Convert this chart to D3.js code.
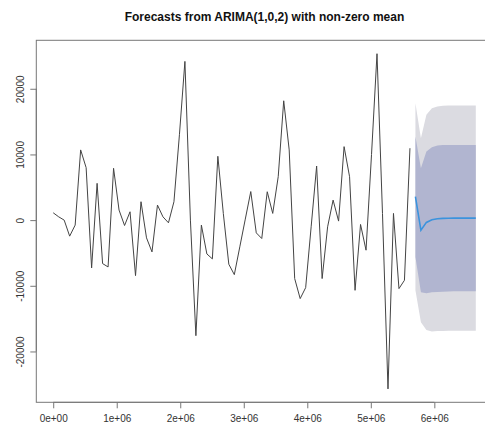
<!DOCTYPE html>
<html>
<head>
<meta charset="utf-8">
<script src="https://cdn.jsdelivr.net/npm/d3@7"></script>
<style>
  html, body { margin: 0; padding: 0; background: #fff; }
  svg { display: block; font-family: "Liberation Sans", Arial, sans-serif; }
</style>
</head>
<body>
<svg id="chart" width="485" height="426"></svg>
<script>
// Daily observations, time measured in seconds
const step = 86400;
const observed = [
  1115, 500, 0, -2440, -760, 10690, 7990, -7280, 5600, -6620,
  -7130, 7890, 1530, -820, 1270, -8450, 2800, -2700, -4840, 2290,
  500, -410, 2800, 13000, 24170, 0, -17600, -760, -5150, -5900,
  9720, 1000, -6720, -8300, -4070, 150, 4350, -1940, -2800, 4320,
  1020, 6620, 18170, 10690, -8900, -11950, -10280, -1020, 8240, -8900,
  -1020, 3050, -150, 11190, 6610, -10690, -660, -4580, 10000, 25340,
  1000, -25700, 1020, -10430, -9160, 10950
];

// Twelve-step forecast with 80% and 95% prediction intervals
const fcMean = [3560, -1550, -350, 50, 200, 260, 290, 300, 300, 300, 300, 300];
const hi80 = [12720, 7890, 10430, 11100, 11350, 11420, 11450, 11450, 11450, 11450, 11450, 11450];
const lo80 = [-5600, -10990, -11130, -11000, -10950, -10900, -10870, -10850, -10850, -10850, -10850, -10850];
const hi95 = [17800, 12470, 16030, 17050, 17300, 17400, 17450, 17450, 17450, 17450, 17450, 17450];
const lo95 = [-10680, -15570, -16730, -16950, -16900, -16880, -16860, -16850, -16850, -16850, -16850, -16850];

const xTicks = [0, 1e6, 2e6, 3e6, 4e6, 5e6, 6e6];
const yTicks = [-20000, -10000, 0, 10000, 20000];
const title = "Forecasts from ARIMA(1,0,2) with non-zero mean";

const obsPts = observed.map((v, i) => ({ t: i * step, v }));
const n0 = observed.length;
const fcPts = fcMean.map((v, i) => ({
  t: (n0 + i) * step, v, lo80: lo80[i], hi80: hi80[i], lo95: lo95[i], hi95: hi95[i]
}));

// Axis ranges padded by 4% on each side
function padded(lo, hi) { const d = (hi - lo) * 0.04; return [lo - d, hi + d]; }
const tMax = fcPts[fcPts.length - 1].t;
const vMin = d3.min([d3.min(observed), d3.min(lo95)]);
const vMax = d3.max([d3.max(observed), d3.max(hi95)]);

const box = { left: 36.3, right: 492.7, top: 40.3, bottom: 402.3 };
const x = d3.scaleLinear().domain(padded(0, tMax)).range([box.left, box.right]);
const y = d3.scaleLinear().domain(padded(vMin, vMax)).range([box.bottom, box.top]);

const svg = d3.select("#chart");

svg.append("defs").append("clipPath").attr("id", "plotClip")
  .append("rect").attr("x", box.left).attr("y", box.top)
  .attr("width", box.right - box.left).attr("height", box.bottom - box.top);

const plot = svg.append("g").attr("clip-path", "url(#plotClip)");

// Prediction interval bands
plot.append("path").datum(fcPts)
  .attr("fill", "#dbdbe1")
  .attr("d", d3.area().x(d => x(d.t)).y0(d => y(d.lo95)).y1(d => y(d.hi95)));
plot.append("path").datum(fcPts)
  .attr("fill", "#b1b5d0")
  .attr("d", d3.area().x(d => x(d.t)).y0(d => y(d.lo80)).y1(d => y(d.hi80)));

// Observed series
plot.append("path").datum(obsPts)
  .attr("fill", "none").attr("stroke", "#444").attr("stroke-width", 1)
  .attr("d", d3.line().x(d => x(d.t)).y(d => y(d.v)));

// Point forecasts
plot.append("path").datum(fcPts)
  .attr("fill", "none").attr("stroke", "#3b93dd").attr("stroke-width", 1.6)
  .attr("d", d3.line().x(d => x(d.t)).y(d => y(d.v)));

// Plot frame
svg.append("rect")
  .attr("x", box.left).attr("y", box.top)
  .attr("width", box.right - box.left).attr("height", box.bottom - box.top)
  .attr("fill", "none").attr("stroke", "#777").attr("stroke-width", 1);

// Scientific-notation labels like 1e+06
function sci(d) {
  if (d === 0) return "0e+00";
  const e = Math.floor(Math.log10(Math.abs(d)));
  const m = d / Math.pow(10, e);
  return m + "e+" + String(e).padStart(2, "0");
}

const xAxis = svg.append("g")
  .attr("transform", `translate(0,${box.bottom})`)
  .call(d3.axisBottom(x).tickValues(xTicks).tickFormat(sci).tickSize(6).tickPadding(7).tickSizeOuter(0));
xAxis.select(".domain")
  .attr("d", `M${x(xTicks[0])},0H${x(xTicks[xTicks.length - 1])}`);

const yAxis = svg.append("g")
  .attr("transform", `translate(${box.left},0)`)
  .call(d3.axisLeft(y).tickValues(yTicks).tickFormat(d => String(d)).tickSize(6).tickSizeOuter(0));
yAxis.select(".domain")
  .attr("d", `M0,${y(yTicks[0])}V${y(yTicks[yTicks.length - 1])}`);
yAxis.selectAll(".tick text")
  .attr("x", null).attr("dy", "0.36em")
  .attr("text-anchor", "middle")
  .attr("transform", "translate(-16.3,0) rotate(-90)");

[xAxis, yAxis].forEach(a => {
  a.selectAll(".domain, .tick line").attr("stroke", "#777");
  a.selectAll(".tick text").attr("fill", "#333")
    .style("font-size", "10px").style("font-family", "'Liberation Sans', Arial, sans-serif");
});

svg.append("text")
  .attr("x", (box.left + box.right) / 2).attr("y", 21)
  .attr("text-anchor", "middle")
  .style("font-size", "12px").style("font-weight", "bold").attr("fill", "#111")
  .text(title);
</script>
</body>
</html>
